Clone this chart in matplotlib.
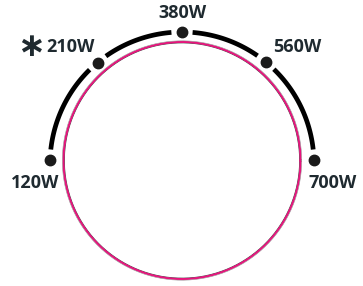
import numpy as np
import matplotlib.pyplot as plt

# gauge stops
labels = ["120W", "210W", "380W", "560W", "700W"]
stop_angles = [178.3, 129.8, 90.0, 50.5, 1.7]   # degrees on the dial

text_color = "#1f2a30"
pink = "#e8127c"

fig = plt.figure(figsize=(3.63, 2.86), dpi=100)
ax = fig.add_axes([0, 0, 1, 1])
ax.set_xlim(0, 363)
ax.set_ylim(286, 0)
ax.set_aspect("equal")
ax.axis("off")

cx, cy, r = 182, 164, 132

def pt(a, rad=r, ccy=cy):
    t = np.radians(a)
    return cx + rad * np.cos(t), ccy - rad * np.sin(t)

# arc pieces between the stops, with a small gap round every dot
gap = 4.6
for a0, a1 in zip(stop_angles[:-1], stop_angles[1:]):
    t = np.linspace(a0 - gap, a1 + gap, 80)
    x, y = pt(t)
    ax.plot(x, y, color="black", lw=3.4, solid_capstyle="butt")

for lab, a in zip(labels, stop_angles):
    x, y = pt(a)
    ax.plot(x, y, "o", color="#1a1a1a", ms=7.5)

# inner ring
t = np.linspace(0, 360, 400)
ring_cy = 160.5
ix, iy = pt(t, 117.6, ring_cy)
ax.plot(ix, iy, color="#444444", lw=0.6)
ix, iy = pt(t, 118.6, ring_cy)
ax.plot(ix, iy, color=pink, lw=1.5)
ix, iy = pt(t, 119.7, ring_cy)
ax.plot(ix, iy, color="#999999", lw=0.4)

font = dict(color=text_color, fontsize=13, fontweight="bold", family="Open Sans")
ax.text(35, 183.5, labels[0], ha="center", va="center", **font)
ax.text(70, 47, labels[1], ha="center", va="center", **font)
ax.text(31, 47, "\u2217", ha="center", va="center", color=text_color,
        fontsize=24, fontweight="bold", family="DejaVu Sans")
ax.text(182, 13, labels[2], ha="center", va="center", **font)
ax.text(297, 47, labels[3], ha="center", va="center", **font)
ax.text(333, 183.5, labels[4], ha="center", va="center", **font)

fig.savefig("out.png", dpi=100)
